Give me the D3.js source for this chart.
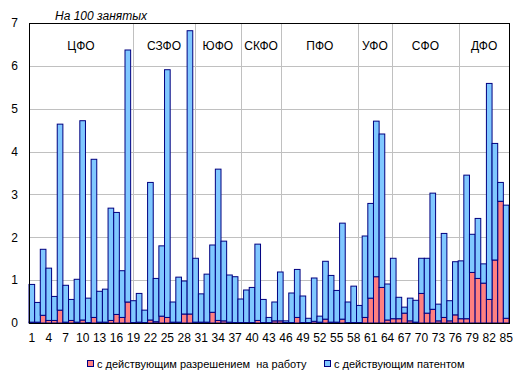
<!DOCTYPE html>
<meta charset="utf-8">
<title>На 100 занятых</title>
<script src="https://d3js.org/d3.v7.min.js"></script>
<style>
  body { margin: 0; background: #fff; }
  text { font-family: Arial, "Liberation Sans", sans-serif; fill: #000; }
  .tick text { font-size: 12px; }
  text.title { font-size: 12px; font-style: italic; }
  text.district { font-size: 12px; text-anchor: middle; }
  text.legend { font-size: 11px; }
</style>
<div id="chart"></div>
<script>

// regions 1..85
var regions = d3.range(1, 86)

// total per 100 employed (bar top) and the part with work permit (red)
var totals = [0.90,0.48,1.72,1.28,0.62,4.64,0.88,0.55,1.02,4.72,
              0.58,3.82,0.74,0.79,2.68,2.58,1.22,6.37,0.52,0.69,
              0.30,3.28,1.04,1.80,5.91,0.49,1.07,0.98,6.82,1.51,
              0.68,1.14,1.82,3.59,1.91,1.12,1.08,0.56,0.77,0.83,
              1.84,0.55,0.13,0.49,1.19,0.05,0.70,1.25,0.63,0.11,
              1.05,0.16,1.44,1.11,0.76,2.33,0.49,0.86,0.41,2.03,
              2.79,4.71,4.41,0.91,1.51,0.60,0.37,0.58,0.53,1.51,
              1.51,3.03,0.44,2.09,0.52,1.43,1.45,3.45,2.07,2.44,
              1.38,5.59,4.19,3.28,2.75]
var permit = [0.02,0.02,0.18,0.06,0.06,0.30,0.02,0.06,0.02,0.07,
              0.01,0.13,0.02,0.02,0.06,0.20,0.13,0.49,0.01,0.02,
              0.01,0.07,0.03,0.16,0.13,0.02,0.02,0.21,0.21,0.02,
              0.02,0.02,0.25,0.06,0.05,0.02,0.01,0.01,0.01,0.01,
              0.06,0.01,0.01,0.05,0.05,0.01,0.01,0.13,0.01,0.01,
              0.04,0.02,0.09,0.02,0.02,0.09,0.01,0.01,0.01,0.13,
              0.58,1.08,0.83,0.07,0.10,0.10,0.23,0.05,0.02,0.69,
              0.23,0.32,0.05,0.13,0.05,0.19,0.10,0.10,1.18,1.04,
              0.93,0.55,1.47,2.84,0.11]

var districts = ["ЦФО","СЗФО","ЮФО","СКФО","ПФО","УФО","СФО","ДФО"]
// divider lines, in region units from the left edge
var dividers = [18.4, 29.4, 37.5, 44.7, 58.3, 64.2, 76.2]

var yTicks = [0,1,2,3,4,5,6,7]
var seriesNames = ["с действующим разрешением  на работу", "с действующим патентом"]
var colors = ["#ff8080", "#80c8ff"]

var W = 521, H = 377
var margin = {top: 23, right: 12, bottom: 54, left: 29}
var x0 = margin.left, x1 = W - margin.right
var y0 = H - margin.bottom, y1 = margin.top

var svg = d3.select("#chart").append("svg")
    .attr("width", W)
    .attr("height", H)

var data = regions.map(function(r, i) {
  return {region: r, permit: permit[i], patent: +(totals[i] - permit[i]).toFixed(2)}
})

var x = d3.scaleBand()
    .domain(regions)
    .range([x0, x1])
    .paddingInner(0)
    .paddingOuter(0)

var y = d3.scaleLinear()
    .domain([0, 7])
    .range([y0, y1])

// horizontal grid
svg.append("g")
  .selectAll("line")
  .data(yTicks.slice(1, -1))
  .enter().append("line")
    .attr("x1", x0).attr("x2", x1)
    .attr("y1", function(d) { return Math.round(y(d)) + 0.5 })
    .attr("y2", function(d) { return Math.round(y(d)) + 0.5 })
    .attr("stroke", "#c0c0c0")

// district dividers
svg.append("g")
  .selectAll("line")
  .data(dividers)
  .enter().append("line")
    .attr("x1", function(d) { return Math.round(x0 + d * x.step()) + 0.5 })
    .attr("x2", function(d) { return Math.round(x0 + d * x.step()) + 0.5 })
    .attr("y1", y1).attr("y2", y0)
    .attr("stroke", "#c0c0c0")

// district labels, centred between dividers
var edges = [0].concat(dividers, [regions.length])
svg.append("g")
  .selectAll("text")
  .data(districts)
  .enter().append("text")
    .attr("class", "district")
    .attr("x", function(d, i) { return x0 + (edges[i] + edges[i + 1]) / 2 * x.step() })
    .attr("y", 50)
    .text(function(d) { return d })

// stacked bars
var stack = d3.stack().keys(["permit", "patent"])
var layers = stack(data)

svg.append("g")
  .selectAll("g")
  .data(layers)
  .enter().append("g")
    .attr("fill", function(d, i) { return colors[i] })
    .attr("stroke", "#000080")
    .attr("stroke-width", 1)
  .selectAll("rect")
  .data(function(d) { return d })
  .enter().append("rect")
    .attr("x", function(d) { return x(d.data.region) })
    .attr("y", function(d) { return y(d[1]) })
    .attr("width", x.bandwidth())
    .attr("height", function(d) { return Math.max(0, y(d[0]) - y(d[1])) })

// frame
svg.append("rect")
    .attr("x", x0 + 0.5).attr("y", y1 + 0.5)
    .attr("width", x1 - x0).attr("height", y0 - y1)
    .attr("fill", "none")
    .attr("stroke", "#000")

// axes
var yAxis = svg.append("g")
    .attr("transform", "translate(" + x0 + ",0)")
    .call(d3.axisLeft(y).tickValues(yTicks).tickSize(0).tickPadding(11).tickFormat(d3.format("d")))
yAxis.select(".domain").remove()

var xAxis = svg.append("g")
    .attr("transform", "translate(0," + y0 + ")")
    .call(d3.axisBottom(x).tickValues(regions.filter(function(r) { return (r - 1) % 3 == 0 })).tickSize(0).tickPadding(10))
xAxis.select(".domain").remove()
svg.selectAll(".tick text").style("font-family", "Arial, 'Liberation Sans', sans-serif")

// title
svg.append("text")
    .attr("class", "title")
    .attr("x", 55)
    .attr("y", 20)
    .text("На 100 занятых")

// legend
var legendX = [87, 324]
var lg = svg.append("g")
  .selectAll("g")
  .data(seriesNames)
  .enter().append("g")
    .attr("transform", function(d, i) { return "translate(" + legendX[i] + ",360)" })
lg.append("rect")
    .attr("x", 0.5).attr("y", 0.5)
    .attr("width", 6).attr("height", 6)
    .attr("fill", function(d, i) { return colors[i] })
    .attr("stroke", "#000080")
lg.append("text")
    .attr("class", "legend")
    .attr("x", 10)
    .attr("y", 8)
    .style("white-space", "pre")
    .text(function(d) { return d })

</script>
